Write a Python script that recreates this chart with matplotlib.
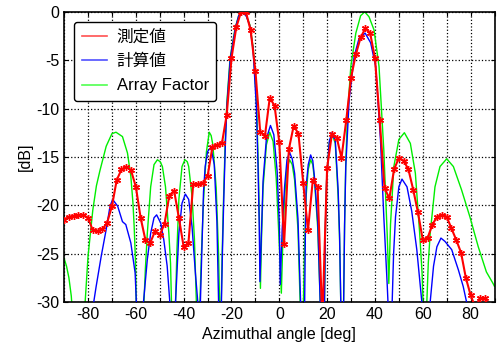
import numpy as np
import matplotlib
matplotlib.use("Agg")
import matplotlib.pyplot as plt
from matplotlib.lines import Line2D

plt.rcParams['font.family'] = ['Liberation Sans', 'Noto Sans CJK JP', 'DejaVu Sans']
plt.rcParams['axes.unicode_minus'] = False

# measured pattern (every 2 deg)
meas_deg = list(range(-90, 91, 2))
meas_db = [-21.5, -21.2, -21.1, -21.0, -21.0, -21.3, -22.6, -22.65, -22.5, -21.8,
           -20.1, -17.4, -16.3, -16.0, -16.4, -18.1, -21.3, -23.6, -23.9, -22.7,
           -23.1, -21.9, -19.0, -18.5, -21.3, -24.3, -23.9, -17.8, -17.8, -17.7,
           -17.0, -14.0, -13.75, -13.6, -10.65, -4.8, -1.6, 0.0, 0.0, -1.9,
           -6.1, -12.4, -12.8, -8.9, -9.7, -13.5, -24.0, -14.2, -11.8, -12.6,
           -17.7, -22.6, -17.4, -18.1, -32.0, -16.1, -12.65, -13.0, -15.1, -11.2,
           -6.8, -4.4, -2.65, -1.7, -2.2, -4.8, -11.2, -18.2, -19.3, -16.3,
           -15.1, -15.4, -16.3, -18.4, -20.75, -23.6, -23.4, -22.0, -21.2, -21.0,
           -21.2, -22.4, -23.6, -24.9, -27.5, -29.3, -30.6, -29.6, -29.6, -31.0,
           -31.0]

# calculated pattern
calc_deg = [-90, -78.2, -77.6, -76.6, -74.5, -72.4, -70.8, -69.7, -67.6, -65.6,
            -64.2, -62.1, -60.3, -59.8, -59.3,
            -57.2, -56.8, -55.2, -53.8, -52.4, -51.3, -49.6, -48.3, -46.9, -45.8, -44.6,
            -43.4, -42.0, -40.7, -39.3, -37.9, -36.5, -35.1, -34.1, -33.6,
            -33.0, -31.7, -31.0, -30.0, -28.6, -27.2, -26.1, -25.4, -24.8,
            -24.2, -23.8, -23.3, -22.6, -21.9, -20.5, -18.4, -17.0, -15.3, -13.8,
            -12.4, -11.0, -9.6, -8.9, -8.4, -8.1,
            -7.5, -6.8, -5.4, -3.7, -2.3, -0.9, 0.0, 0.4,
            1.2, 2.2, 3.2, 4.3, 5.4, 6.4, 7.8, 8.9, 9.7,
            10.6, 10.9, 11.2, 12.1, 13.1, 14.0, 14.7, 16.1, 17.1, 18.0,
            18.9, 19.3, 19.8, 20.9, 22.0, 23.4, 24.6, 25.2, 25.7, 26.3,
            26.9, 27.3, 27.8, 29.2, 31.3, 33.4, 35.9, 38.2, 40.3, 42.3, 43.7, 45.1, 45.8, 46.5,
            47.2, 47.8, 48.6, 50.0, 51.3, 53.4, 55.4, 57.5, 59.6, 60.5,
            62.3, 63.1, 64.5, 65.9, 67.6, 69.3, 72.1, 74.9, 76.9, 78.3, 79.0, 90]
calc_db = [-40, -40, -30, -28.4, -25.3, -22.5, -20.1, -19.4, -20.1, -21.7,
           -22.0, -23.9, -27.0, -30, -45,
           -45, -30, -25.6, -22.9, -21.3, -21.0, -21.85, -23.6, -26.3, -30, -45,
           -30, -22.9, -19.8, -18.85, -19.4, -22.2, -27.0, -30, -45,
           -30, -18.6, -16.0, -14.45, -14.0, -15.8, -21.7, -30, -45,
           -30, -25, -20, -14, -9.6, -4.8, -1.7, -0.4, -0.05, -0.45,
           -1.4, -3.8, -9.8, -16, -22, -27.9,
           -23, -17.5, -13.1, -11.75, -12.7, -16.5, -22, -28.2,
           -22.5, -18.1, -15.3, -14.55, -15.2, -16.7, -21.4, -30, -45,
           -30, -23, -18.1, -15.8, -14.8, -15.4, -17.1, -21.9, -30, -45,
           -30, -22, -17.4, -13.4, -12.5, -13.3, -18.4, -23, -30, -45,
           -30, -22, -16.0, -9.1, -4.6, -2.7, -2.2, -3.2, -5.65, -13.2, -21.2, -28.1, -32, -45,
           -30, -25, -21.2, -18.1, -17.3, -18.1, -20.65, -24.6, -30, -45,
           -45, -30, -26.3, -24.3, -23.4, -23.75, -24.6, -26.7, -28.4, -30, -40, -40]

# array factor
af_deg = [-90, -89, -88, -87, -86, -84,
          -81.6, -81.2, -80, -78, -76.5, -75, -72.4, -70, -68.3, -65.6, -63.5, -62.1,
          -61.2, -60.7, -60.2, -59.8, -59.0,
          -57.0, -56.6, -56.0, -55.2, -53.8, -52.4, -51.0, -49.8, -48.9, -47.6, -46.2,
          -45.5, -45.0, -44.2,
          -43.4, -42.8, -42.0, -40.7, -39.5, -38.5, -37.9, -36.5, -35.5, -34.7, -34.0,
          -33.2, -32.5, -31.7, -30.5, -29.3, -28.5, -27.8, -26.4, -25.4, -25.0, -24.7,
          -24.3, -23.9, -23.4, -22.7, -22.0, -20.6, -18.5, -17.0, -15.3, -13.8, -12.3,
          -10.9, -9.5, -8.8, -8.3, -7.9,
          -7.4, -6.8, -5.4, -4.0, -2.6, -1.3, -0.3, 0.85,
          1.5, 2.2, 3.2, 4.3, 5.4, 6.4, 7.8, 8.7, 9.5,
          10.1, 10.6, 11.2, 12.1, 13.1, 14.0, 14.7, 16.1, 17.1, 18.0,
          18.9, 19.3, 19.8, 20.9, 22.0, 23.4, 24.6, 25.2, 25.7, 26.3,
          26.9, 27.3, 27.8, 28.5, 29.9, 32.0, 34.0, 35.7, 37.5, 39.6, 41.7, 43.7, 45.1, 45.8,
          46.5, 47.9, 50.0, 52.3, 54.8, 56.9, 58.7, 59.7, 60.5, 61.0,
          61.7, 62.3, 63.1, 65.1, 67.2, 70.0, 72.8, 76.2, 79.7, 83.2, 86.6, 89.4, 90]
af_db = [-25.5, -26.3, -27.5, -29.4, -33, -45,
         -33, -30, -25.3, -20.5, -18.0, -16.4, -13.9, -12.6, -12.45, -12.9, -14.6, -17.0,
         -19.8, -22.2, -25.5, -30.5, -45,
         -40, -30, -26.5, -22.9, -18.1, -15.8, -15.3, -15.5, -16.0, -18.1, -22.9,
         -26, -31, -45,
         -30, -24.5, -19.4, -16.0, -15.3, -15.5, -16.0, -19.1, -23.5, -30, -45,
         -30, -24.5, -19.5, -14.5, -12.45, -12.8, -13.75, -18.2, -25.1, -30, -45,
         -30, -25, -20, -14, -9.6, -4.8, -1.7, -0.4, 0.0, -0.4, -1.35,
         -3.75, -9.6, -15.8, -22, -28.6,
         -23, -18.2, -13.75, -12.45, -13.4, -17.2, -22.5, -29.1,
         -23.5, -19.1, -16.2, -15.3, -15.8, -17.4, -22.5, -30, -45,
         -30, -24, -19.1, -16.3, -15.3, -15.8, -17.4, -22.5, -30, -45,
         -30, -22, -17.4, -13.6, -12.6, -13.6, -19.1, -23.5, -30, -45,
         -30, -22, -15.5, -10.8, -5.65, -2.2, -0.4, 0.0, -0.5, -1.86, -5.65, -14.3, -22.9, -28.1,
         -22, -16.0, -13.2, -12.5, -13.6, -16.7, -22.9, -27, -33, -45,
         -30, -26, -22.9, -18.1, -16.0, -15.2, -16.0, -18.4, -21.2, -24.3, -26.9, -28.1, -28.4]

fig = plt.figure(figsize=(4.97, 3.49), dpi=100)
ax = fig.add_axes([0.129, 0.135, 0.866, 0.831])

ax.plot(af_deg, af_db, color='#00ee00', lw=1.0, zorder=2)
ax.plot(calc_deg, calc_db, color='#0000ff', lw=1.0, zorder=3)
ax.plot(meas_deg, meas_db, color='#ff0000', lw=1.5, marker=(6, 2, 0), ms=5,
        mew=1.0, zorder=4)

ax.set_xlim(-90, 90)
ax.set_ylim(-30, 0)
xt = np.arange(-90, 91, 10)
ax.set_xticks(xt)
ax.set_xticklabels([str(v) if v % 20 == 0 else '' for v in xt])
ax.set_yticks(np.arange(-30, 1, 5))
ax.tick_params(direction='in', labelsize=11.5, top=True, right=True, length=3)
ax.grid(True, color='black', linestyle=':', linewidth=0.9)
for s in ax.spines.values():
    s.set_linewidth(1.2)

ax.set_xlabel('Azimuthal angle [deg]', fontsize=11.5)
ax.set_ylabel('[dB]', fontsize=11.5, labelpad=2)

# legend handles: plain lines, no markers
handles = [Line2D([], [], color='#ff5050', lw=1.2),
           Line2D([], [], color='#5050ff', lw=1.2),
           Line2D([], [], color='#50ff50', lw=1.2)]
labels = ['測定値', '計算値', 'Array Factor']
leg = ax.legend(handles, labels, loc='upper left', fontsize=12, fancybox=True,
                framealpha=1, edgecolor='black', handlelength=1.5,
                handletextpad=0.6, labelspacing=0.55, borderaxespad=0.6,
                borderpad=0.45)
leg.get_frame().set_linewidth(1.0)

fig.savefig('out.png', dpi=100)
